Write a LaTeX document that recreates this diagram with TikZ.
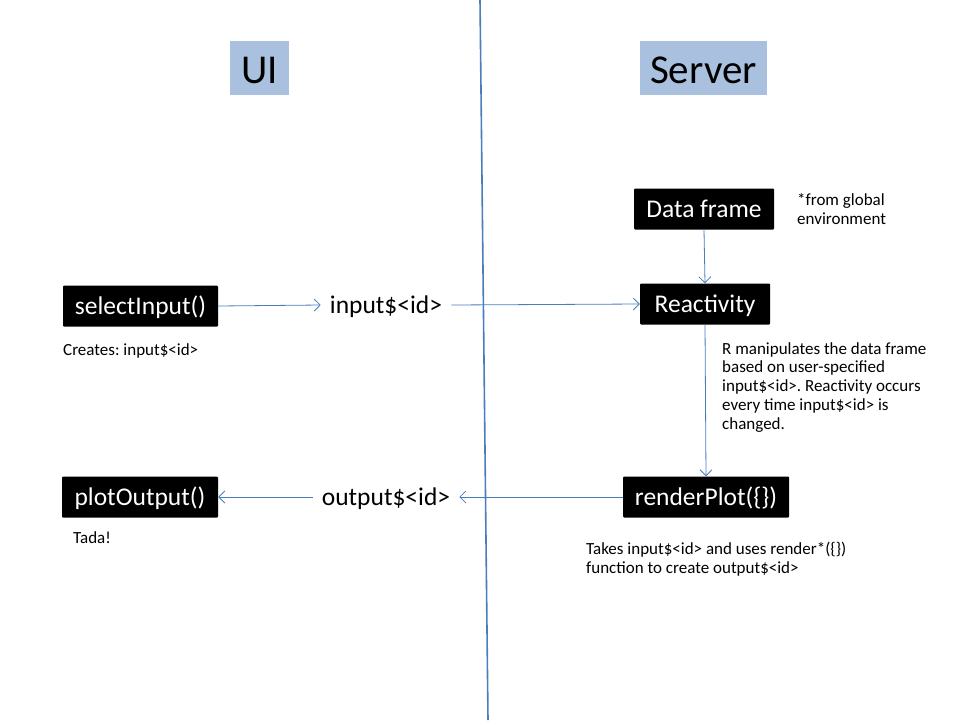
\documentclass[tikz,border=0pt]{standalone}
\usepackage{fontspec}
\setmainfont{Carlito}
\usetikzlibrary{arrows.meta}
\definecolor{headblue}{HTML}{A9C1DE}
\definecolor{lineblue}{HTML}{4A7EBB}
\frenchspacing
\tikzset{
	header/.style={fill=headblue, inner sep=0pt, text height=30pt, text depth=0pt, font=\fontsize{41}{44}\selectfont},
	blackbox/.style={fill=black, text=white, rounded corners=1pt, minimum height=41pt, inner xsep=8pt, text height=20pt, text depth=4pt, font=\fontsize{25.5}{28}\selectfont},
	tag/.style={inner sep=9pt, text height=20pt, text depth=4pt, font=\fontsize{25.5}{28}\selectfont},
	note/.style={inner sep=0pt, align=left, font=\fontsize{17}{18.7}\selectfont},
	flow/.style={draw=lineblue, line width=0.8pt, -{Straight Barb[length=6pt,width=12pt,line width=0.8pt]}}
}
\begin{document}
\begin{tikzpicture}[x=1pt, y=-1pt]
	\useasboundingbox (0,0) rectangle (960,720);
	\node [header, minimum width=59pt, minimum height=54pt] (ui) at (259.5,68) {UI};
	\node [header, minimum width=127pt, minimum height=54pt] (server) at (703.5,68) {Server};
	\draw [lineblue, line width=1.6pt] (480,0) -- (488,720);
	\node [blackbox, minimum width=140pt] (data) at (704,209) {Data frame};
	\node [note, anchor=base west] (global) at (797,224) {*from global\\environment};
	\node [blackbox, minimum width=130pt] (react) at (705,304) {Reactivity};
	\node [blackbox, minimum width=155pt] (select) at (140.5,306) {selectInput()};
	\node [note, anchor=base west] (creates) at (63,355) {Creates: input\$<id>};
	\node [tag] (input) at (386,305) {input\$<id>};
	\node [note, anchor=base west] (manip) at (722,429) {R manipulates the data frame\\based on user-specified\\input\$<id>. Reactivity occurs\\every time input\$<id> is\\changed.};
	\node [blackbox, minimum width=166pt] (render) at (706,497) {renderPlot(\{\})};
	\node [note, anchor=base west] (takes) at (586,573) {Takes input\$<id> and uses render*(\{\})\\function to create output\$<id>};
	\node [tag] (output) at (386,497) {output\$<id>};
	\node [blackbox, minimum width=156pt] (plot) at (140,497) {plotOutput()};
	\node [note, anchor=base west] (tada) at (73,543) {Tada!};
	\draw [flow] (select.east) -- (input.west);
	\draw [flow] (input.east) -- (react.west);
	\draw [flow] (data.south) -- (react.north);
	\draw [flow] (react.south) -- (render.north);
	\draw [flow] (render.west) -- (output.east);
	\draw [flow] (output.west) -- (plot.east);
\end{tikzpicture}
\end{document}
